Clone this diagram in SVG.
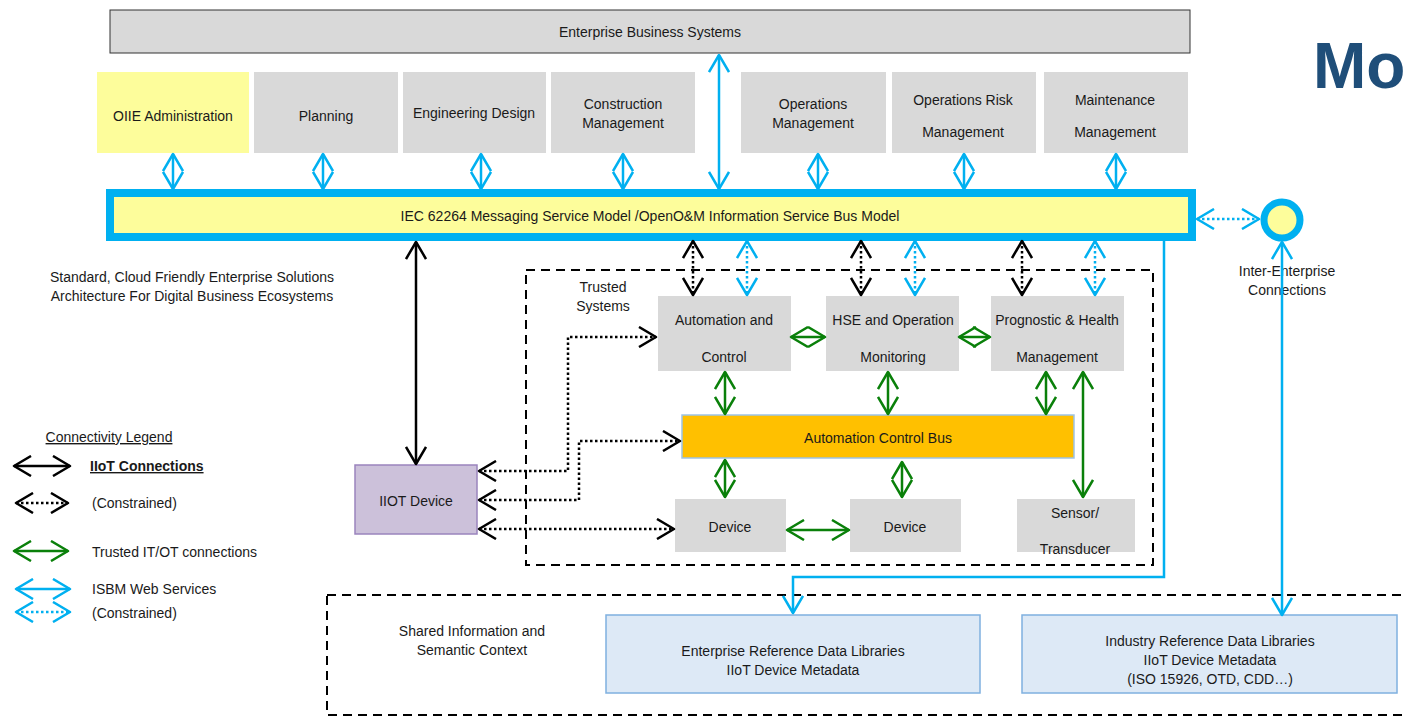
<svg xmlns="http://www.w3.org/2000/svg" width="1404" height="717" viewBox="0 0 1404 717">
<style>
text{font-family:"Liberation Sans",Arial,sans-serif;font-size:14px;fill:#1a1a1a;text-anchor:middle}
.l{text-anchor:start}
.gray{fill:#d9d9d9}
.yel{fill:#fdfd9b}
.lib{fill:#dde9f6;stroke:#7fb0df;stroke-width:1.5}
.dash{fill:none;stroke:#000;stroke-width:2;stroke-dasharray:9,6}
.k{fill:none;stroke:#000;stroke-width:2.5}
.kd{fill:none;stroke:#000;stroke-width:2.5;stroke-dasharray:2.5,2.5}
.g{fill:none;stroke:#0a800a;stroke-width:2.5}
.b{fill:none;stroke:#00b0f0;stroke-width:2.5}
.bd{fill:none;stroke:#00b0f0;stroke-width:2.5;stroke-dasharray:2.5,2.5}
.mk{marker-start:url(#mk);marker-end:url(#mk)}
.mg{marker-start:url(#mg);marker-end:url(#mg)}
.mb{marker-start:url(#mb);marker-end:url(#mb)}
</style>
<defs>
<marker id="mk" markerUnits="userSpaceOnUse" viewBox="0 0 20 22" refX="18" refY="11" markerWidth="20" markerHeight="22" orient="auto-start-reverse"><path d="M1,1 L18,11 L1,21" fill="none" stroke="#000" stroke-width="2.5" stroke-dasharray="none" stroke-linejoin="round"/></marker>
<marker id="mg" markerUnits="userSpaceOnUse" viewBox="0 0 20 22" refX="18" refY="11" markerWidth="20" markerHeight="22" orient="auto-start-reverse"><path d="M1,1 L18,11 L1,21" fill="none" stroke="#0a800a" stroke-width="2.5" stroke-dasharray="none" stroke-linejoin="round"/></marker>
<marker id="mb" markerUnits="userSpaceOnUse" viewBox="0 0 20 22" refX="18" refY="11" markerWidth="20" markerHeight="22" orient="auto-start-reverse"><path d="M1,1 L18,11 L1,21" fill="none" stroke="#00b0f0" stroke-width="2.5" stroke-dasharray="none" stroke-linejoin="round"/></marker>
</defs>
<rect width="1404" height="717" fill="#fff"/>

<text x="1313" y="88" class="l" style="font-size:64px;font-weight:bold;fill:#1f4e79">Mo</text>

<g id="enterprise-business-systems"><rect x="110" y="10" width="1080" height="43" class="gray" stroke="#333" stroke-width="1"/><text x="650" y="37">Enterprise Business Systems</text></g>
<g id="oiie-admin"><rect x="97" y="72" width="152" height="81" class="yel"/><text x="173" y="121">OIIE Administration</text></g>
<g id="planning"><rect x="254" y="72" width="144" height="81" class="gray"/><text x="326" y="121">Planning</text></g>
<g id="engineering-design"><rect x="403" y="72" width="143" height="81" class="gray"/><text x="474" y="118">Engineering Design</text></g>
<g id="construction-management"><rect x="551" y="72" width="144" height="81" class="gray"/><text x="623" y="109">Construction</text><text x="623" y="128">Management</text></g>
<g id="operations-management"><rect x="741" y="72" width="145" height="81" class="gray"/><text x="813" y="109">Operations</text><text x="813" y="128">Management</text></g>
<g id="operations-risk-management"><rect x="892" y="72" width="144" height="81" class="gray"/><text x="963" y="105">Operations Risk</text><text x="963" y="137">Management</text></g>
<g id="maintenance-management"><rect x="1044" y="72" width="144" height="81" class="gray"/><text x="1115" y="105">Maintenance</text><text x="1115" y="137">Management</text></g>

<g id="isb"><rect x="110" y="193" width="1082" height="44" class="yel" stroke="#00b0f0" stroke-width="8"/><text x="650" y="221">IEC 62264 Messaging Service Model /OpenO&amp;M Information Service Bus Model</text></g>

<g id="inter-enterprise"><circle cx="1282" cy="220" r="18" class="yel" stroke="#00b0f0" stroke-width="7"/><text x="1287" y="276">Inter-Enterprise</text><text x="1287" y="295">Connections</text></g>

<g id="caption"><text x="192" y="282">Standard, Cloud Friendly Enterprise Solutions</text><text x="192" y="301">Architecture For Digital Business Ecosystems</text></g>

<g id="trusted-systems"><rect x="526" y="270" width="627" height="295" class="dash"/><text x="603" y="292">Trusted</text><text x="603" y="311">Systems</text></g>

<g id="automation-control"><rect x="658" y="296" width="133" height="75" class="gray"/><text x="724" y="325">Automation and</text><text x="724" y="362">Control</text></g>
<g id="hse"><rect x="826" y="296" width="133" height="75" class="gray"/><text x="893" y="325">HSE and Operation</text><text x="893" y="362">Monitoring</text></g>
<g id="phm"><rect x="991" y="296" width="133" height="75" class="gray"/><text x="1057" y="325">Prognostic &amp; Health</text><text x="1057" y="362">Management</text></g>

<g id="automation-control-bus"><rect x="682" y="415" width="392" height="43" fill="#ffc000" stroke="#9dc3e6" stroke-width="1.5"/><text x="878" y="443">Automation Control Bus</text></g>

<g id="device-1"><rect x="675" y="499" width="111" height="53" class="gray"/><text x="730" y="532">Device</text></g>
<g id="device-2"><rect x="850" y="499" width="111" height="53" class="gray"/><text x="905" y="532">Device</text></g>
<g id="sensor"><rect x="1017" y="499" width="118" height="53" class="gray"/><text x="1075" y="518">Sensor/</text><text x="1075" y="554">Transducer</text></g>

<g id="iiot-device"><rect x="355" y="465" width="122" height="69" fill="#ccc1da" stroke="#9a84bd" stroke-width="1.5"/><text x="416" y="506">IIOT Device</text></g>

<g id="shared-info"><rect x="327" y="595" width="1100" height="120" class="dash"/><text x="472" y="636">Shared Information and</text><text x="472" y="655">Semantic Context</text></g>
<g id="enterprise-ref"><rect x="606" y="615" width="374" height="78" class="lib"/><text x="793" y="656">Enterprise Reference Data Libraries</text><text x="793" y="675">IIoT Device Metadata</text></g>
<g id="industry-ref"><rect x="1022" y="615" width="375" height="78" class="lib"/><text x="1210" y="646">Industry Reference Data Libraries</text><text x="1210" y="665">IIoT Device Metadata</text><text x="1210" y="684">(ISO 15926, OTD, CDD…)</text></g>

<g id="legend">
<text x="109" y="442" style="text-decoration:underline">Connectivity Legend</text>
<line x1="14" y1="466" x2="70" y2="466" class="k mk"/><text x="90" y="471" class="l" style="font-weight:bold;text-decoration:underline">IIoT Connections</text>
<line x1="16" y1="503" x2="68" y2="503" class="kd mk"/><text x="92" y="508" class="l">(Constrained)</text>
<line x1="14" y1="551" x2="68" y2="551" class="g mg"/><text x="92" y="557" class="l">Trusted IT/OT connections</text>
<line x1="16" y1="589" x2="70" y2="589" class="b mb"/><text x="92" y="594" class="l">ISBM Web Services</text>
<line x1="16" y1="612" x2="70" y2="612" class="bd mb"/><text x="92" y="618" class="l">(Constrained)</text>
</g>

<g id="connectors">
<line x1="173" y1="154" x2="173" y2="189" class="b mb"/>
<line x1="323" y1="154" x2="323" y2="189" class="b mb"/>
<line x1="481" y1="154" x2="481" y2="189" class="b mb"/>
<line x1="623" y1="154" x2="623" y2="189" class="b mb"/>
<line x1="818" y1="154" x2="818" y2="189" class="b mb"/>
<line x1="964" y1="154" x2="964" y2="189" class="b mb"/>
<line x1="1116" y1="154" x2="1116" y2="189" class="b mb"/>
<line x1="719" y1="55" x2="719" y2="189" class="b mb"/>
<line x1="1197" y1="219" x2="1259" y2="219" class="bd mb"/>
<line x1="1282" y1="242" x2="1282" y2="615" class="b mb"/>
<path d="M1164,241 V577 H793 V613" class="b" marker-end="url(#mb)"/>
<line x1="416" y1="242" x2="416" y2="464" class="k mk"/>
<line x1="693" y1="241" x2="693" y2="295" class="kd mk"/>
<line x1="861" y1="241" x2="861" y2="295" class="kd mk"/>
<line x1="1022" y1="241" x2="1022" y2="295" class="kd mk"/>
<line x1="747" y1="241" x2="747" y2="295" class="bd mb"/>
<line x1="915" y1="241" x2="915" y2="295" class="bd mb"/>
<line x1="1095" y1="241" x2="1095" y2="295" class="bd mb"/>
<path d="M479,471 H568 V337 H656" class="kd mk"/>
<path d="M479,500 H579 V441 H680" class="kd mk"/>
<path d="M479,529 H674" class="kd mk"/>
<line x1="791" y1="337" x2="825" y2="337" class="g mg"/>
<line x1="959" y1="337" x2="990" y2="337" class="g mg"/>
<line x1="725" y1="372" x2="725" y2="414" class="g mg"/>
<line x1="888" y1="372" x2="888" y2="414" class="g mg"/>
<line x1="1046" y1="372" x2="1046" y2="414" class="g mg"/>
<line x1="1083" y1="372" x2="1083" y2="497" class="g mg"/>
<line x1="725" y1="460" x2="725" y2="497" class="g mg"/>
<line x1="902" y1="462" x2="902" y2="497" class="g mg"/>
<line x1="787" y1="530" x2="849" y2="530" class="g mg"/>
</g>
</svg>
